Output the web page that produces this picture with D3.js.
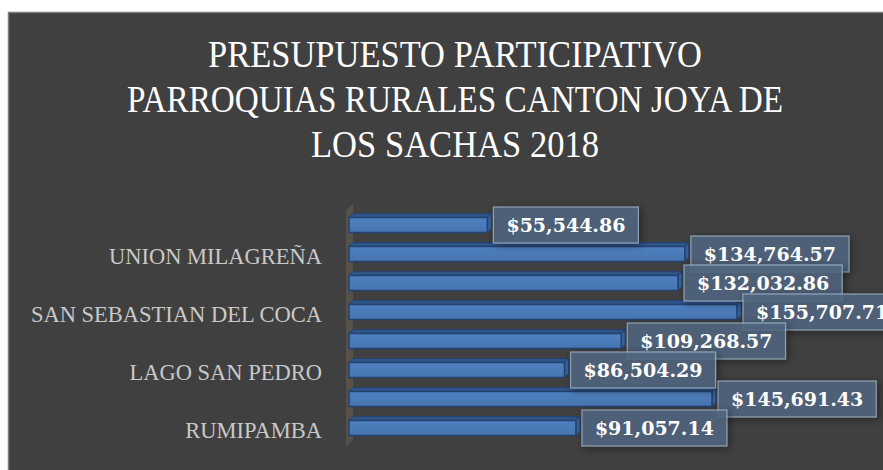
<!DOCTYPE html>
<meta charset="utf-8">
<head>
    <style>
        body { margin: 0; background: #ffffff; }
        .cat-label { font-family: "Liberation Serif", serif; font-size: 22.5px; fill: #c9c9c9; }
        .title { font-family: "Liberation Serif", serif; font-size: 37px; fill: #ffffff; }
        .val { font-family: "DejaVu Serif", serif; font-size: 19px; font-weight: bold; fill: #ffffff; }
    </style>
    <script src="https://d3js.org/d3.v7.min.js"></script>
</head>
<body>
<svg id="chart"></svg>
<script>
    var width = 883, height = 470;

    // datos (de arriba hacia abajo)
    var parroquias = ["TRES DE NOVIEMBRE", "UNION MILAGREÑA", "SAN CARLOS", "SAN SEBASTIAN DEL COCA",
                      "POMPEYA", "LAGO SAN PEDRO", "ENOKANQUI", "RUMIPAMBA"];
    var montos = [55544.86, 134764.57, 132032.86, 155707.71, 109268.57, 86504.29, 145691.43, 91057.14];
    var etiquetasVisibles = ["UNION MILAGREÑA", "SAN SEBASTIAN DEL COCA", "LAGO SAN PEDRO", "RUMIPAMBA"];
    var titulo = ["PRESUPUESTO PARTICIPATIVO", "PARROQUIAS RURALES CANTON JOYA DE", "LOS SACHAS 2018"];
    var anchoTitulo = [494, 656, 288];

    var datos = parroquias.map(function(p, i){ return {name: p, value: montos[i]}; });

    var svg = d3.select("#chart").attr("width", width).attr("height", height);

    var defs = svg.append("defs");
    var sombra = defs.append("filter").attr("id", "sombra")
        .attr("x", "-20%").attr("y", "-40%").attr("width", "140%").attr("height", "180%");
    sombra.append("feGaussianBlur").attr("in", "SourceAlpha").attr("stdDeviation", 4);
    sombra.append("feOffset").attr("dx", 2).attr("dy", 2).attr("result", "b");
    sombra.append("feComponentTransfer").append("feFuncA").attr("type", "linear").attr("slope", 0.5);
    var merge = sombra.append("feMerge");
    merge.append("feMergeNode");
    merge.append("feMergeNode").attr("in", "SourceGraphic");

    var grad = defs.append("linearGradient").attr("id", "cara")
        .attr("x1", 0).attr("y1", 0).attr("x2", 0).attr("y2", 1);
    grad.append("stop").attr("offset", "0%").attr("stop-color", "#4f80c0");
    grad.append("stop").attr("offset", "100%").attr("stop-color", "#4674b0");

    // fondo
    svg.append("rect")
        .attr("x", 8.5).attr("y", 12.5)
        .attr("width", width).attr("height", height)
        .style("fill", "#404040")
        .style("stroke", "#7d7d7d")
        .style("stroke-width", 1.5);

    // titulo
    svg.append("g").selectAll("text")
        .data(titulo)
        .enter()
        .append("text")
        .attr("class", "title")
        .attr("x", 455)
        .attr("y", function(d, i){ return 67 + i * 45; })
        .attr("text-anchor", "middle")
        .attr("textLength", function(d, i){ return anchoTitulo[i]; })
        .attr("lengthAdjust", "spacingAndGlyphs")
        .text(function(d){ return d; });

    var x = d3.scaleLinear()
        .domain([0, 160000])
        .range([349, 349 + 398.7]);

    var y = d3.scaleBand()
        .domain(parroquias)
        .range([210.5, 442.5])
        .padding(0);

    var cara = 15, prof = 4;
    function centro(d){ return y(d.name) + y.bandwidth() / 2; }

    // pared del eje
    svg.append("polygon")
        .attr("points", [[346, 446], [346, 210], [353, 204], [353, 440]].join(" "))
        .style("fill", "#56524a");

    var barras = svg.append("g").selectAll("g")
        .data(datos)
        .enter()
        .append("g");

    // cara superior
    barras.append("polygon")
        .attr("points", function(d){
            var t = centro(d) - cara / 2, x0 = x(0), x1 = x(d.value);
            return [[x0, t], [x0 + prof, t - prof], [x1 + prof, t - prof], [x1, t]].join(" ");
        })
        .style("fill", "#2f5488")
        .style("stroke", "#24426f")
        .style("stroke-width", 1);

    // cara lateral
    barras.append("polygon")
        .attr("points", function(d){
            var t = centro(d) - cara / 2, x1 = x(d.value);
            return [[x1, t], [x1 + prof, t - prof], [x1 + prof, t + cara - prof], [x1, t + cara]].join(" ");
        })
        .style("fill", "#3764a0")
        .style("stroke", "#24426f")
        .style("stroke-width", 1);

    // cara frontal
    barras.append("rect")
        .attr("x", x(0))
        .attr("y", function(d){ return centro(d) - cara / 2; })
        .attr("width", function(d){ return x(d.value) - x(0); })
        .attr("height", cara)
        .style("fill", "url(#cara)")
        .style("stroke", "#24426f")
        .style("stroke-width", 1.5);

    // eje de categorias (solo algunas etiquetas)
    svg.append("g")
        .attr("transform", "translate(" + 322 + ",2)")
        .call(d3.axisLeft(y).tickValues(etiquetasVisibles).tickSize(0).tickPadding(0))
        .call(function(g){ g.select(".domain").remove(); })
        .selectAll("text")
        .attr("class", "cat-label")
        .attr("dy", "0.35em")
        .style("font-family", null)
        .style("font-size", null);

    // etiquetas de valor
    var fmt = d3.format(",.2f");
    var etiquetas = svg.append("g").selectAll("g")
        .data(datos)
        .enter()
        .append("g")
        .attr("transform", function(d){ return "translate(" + (x(d.value) + 6) + "," + centro(d) + ")"; });

    etiquetas.append("rect").attr("class", "caja");
    etiquetas.append("text")
        .attr("class", "val")
        .attr("x", 13)
        .attr("dy", "0.36em")
        .text(function(d){ return "$" + fmt(d.value); });

    etiquetas.each(function(){
        var g = d3.select(this);
        var w = g.select("text").node().getComputedTextLength();
        g.select("rect")
            .attr("x", 0).attr("y", -18)
            .attr("width", w + 26).attr("height", 36)
            .style("fill", "rgba(82,105,130,0.82)")
            .style("stroke", "rgba(170,190,210,0.7)")
            .style("stroke-width", 1.2)
            .attr("filter", "url(#sombra)");
    });
</script>
</body>
</html>
